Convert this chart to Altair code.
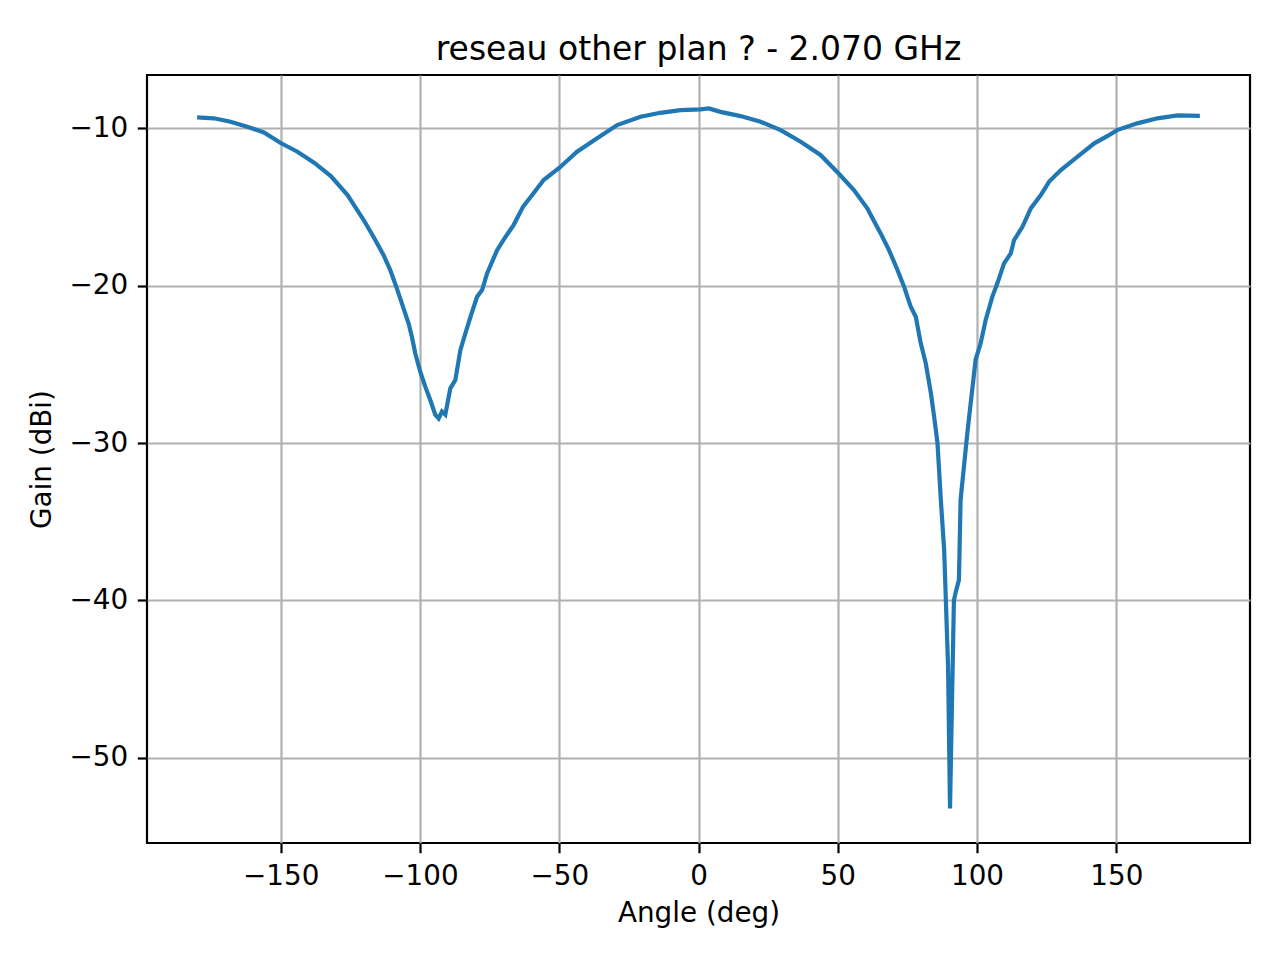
import altair as alt
import pandas as pd

angles = [-180, -174, -168, -162, -156, -150, -144, -138, -132, -126, -120,
          -116.7, -113.1, -110.7, -108.3, -106.5, -104.1, -102.9, -101.7, -99.9,
          -98.1, -96.3, -94.5, -93.3, -92.1, -90.9, -89.1, -87.3, -85.5, -83.7,
          -81.9, -79.5, -77.7, -75.9, -72.3, -70, -66.4, -63, -59.5, -55.6,
          -49.8, -43.6, -36.4, -29.2, -20.8, -13.7, -6.5, 0.7, 3.7, 7.9,
          15.1, 22.3, 29.5, 36.7, 43.8, 50.4, 55.8, 60.6, 61.8, 65.4,
          68.4, 71.4, 73.8, 76.2, 78, 79.8, 81.6, 83.4, 84.6, 85.8,
          87, 88.2, 88.8, 89.6, 90.3, 90.8, 91.7, 92.3, 93.5, 94.1,
          95.3, 96.5, 97.7, 99.5, 101.3, 103.1, 105.5, 107.3, 109.7, 112.1,
          113.3, 116.3, 119.3, 122.9, 125.9, 130.1, 136.1, 142.1, 146.9, 150.3,
          157.5, 164.8, 172, 180]
gains = [-9.32, -9.38, -9.6, -9.92, -10.28, -10.95, -11.5, -12.2, -13.05, -14.25, -15.9,
         -16.9, -18.06, -19.0, -20.18, -21.13, -22.4, -23.25, -24.3, -25.47,
         -26.42, -27.27, -28.2, -28.44, -28.0, -28.2, -26.53, -26.0, -24.1, -23.04,
         -22.0, -20.71, -20.29, -19.23, -17.75, -17.1, -16.16, -15.0, -14.2, -13.3,
         -12.5, -11.5, -10.65, -9.81, -9.28, -9.03, -8.86, -8.81, -8.75, -8.97,
         -9.24, -9.6, -10.13, -10.87, -11.71, -12.9, -13.94, -15.1, -15.5, -16.69,
         -17.75, -19.0, -20.07, -21.35, -21.98, -23.67, -24.94, -26.8, -28.33, -30.0,
         -33.6, -36.8, -39.97, -44.2, -53.2, -48.4, -40.0, -39.5, -38.7, -33.6,
         -31.5, -29.4, -27.5, -24.7, -23.67, -22.19, -20.7, -19.86, -18.59, -17.96,
         -17.11, -16.27, -15.1, -14.25, -13.4, -12.67, -11.82, -10.97, -10.5, -10.13,
         -9.7, -9.38, -9.2, -9.22]

x_ticks = [-150, -100, -50, 0, 50, 100, 150]
y_ticks = [-50, -40, -30, -20, -10]

df = pd.DataFrame({"angle": angles, "gain": gains})

FONT = "DejaVu Sans"

chart = alt.Chart(df).mark_line(color="#1f77b4", strokeWidth=4.2).encode(
    x=alt.X("angle:Q",
            scale=alt.Scale(domain=[-198, 198], nice=False, zero=False),
            axis=alt.Axis(values=x_ticks, title="Angle (deg)", format="d",
                          titleY=70, titleBaseline="middle")),
    y=alt.Y("gain:Q",
            scale=alt.Scale(domain=[-55.4, -6.63], nice=False, zero=False),
            axis=alt.Axis(values=y_ticks, title="Gain (dBi)", format="d",
                          titleX=-105, titleBaseline="middle")),
).properties(
    width=1103,
    height=768,
    autosize=alt.AutoSizeParams(type="none"),
    padding={"left": 139, "top": 67, "right": 20, "bottom": 100},
    title=alt.TitleParams("reseau other plan ? - 2.070 GHz", font=FONT,
                          fontSize=33, fontWeight="normal", color="black",
                          anchor="middle", offset=10, baseline="bottom", dy=35),
).configure_view(
    stroke="black", strokeWidth=2.2
).configure_axis(
    domain=False,
    grid=True, gridColor="#b0b0b0", gridWidth=2.2,
    ticks=True, tickColor="black", tickSize=9.7, tickWidth=2.2,
    labelFont=FONT, labelFontSize=27.8, labelColor="black", labelPadding=9.7,
    titleFont=FONT, titleFontSize=27.8, titleColor="black", titleFontWeight="normal",
)

chart.save("out.html", embed_options={"renderer": "svg", "actions": False})
